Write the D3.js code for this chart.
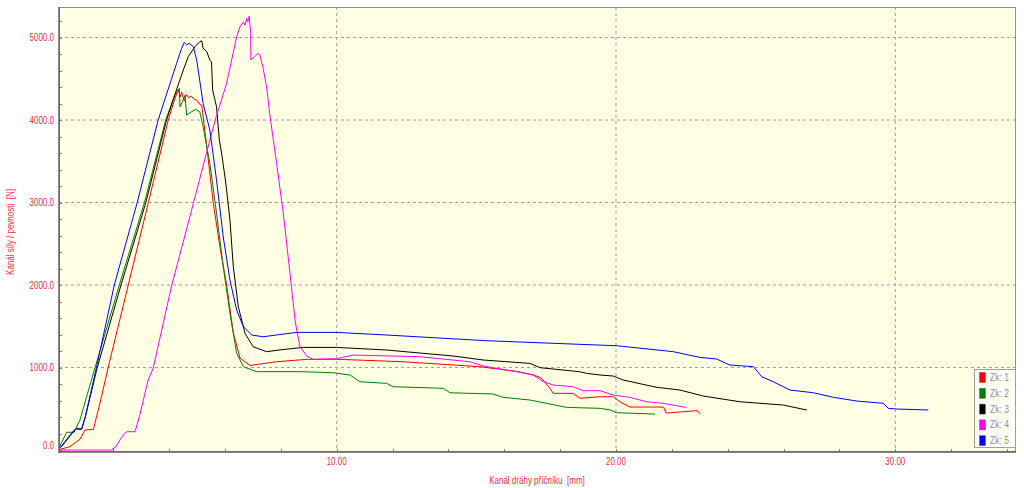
<!DOCTYPE html>
<html><head><meta charset="utf-8">
<script src="https://cdn.jsdelivr.net/npm/d3@7"></script>
<style>body{margin:0;background:#fff}svg{display:block}text{font-family:"Liberation Sans",Arial,sans-serif}</style>
</head><body><svg id="c" width="1024" height="488"></svg>
<script>
const seriesNames = ["Zk: 1","Zk: 2","Zk: 3","Zk: 4","Zk: 5"];
const seriesColors = ["#ff0000","#008000","#000000","#ff00ff","#0000ff"];
const xTicks = [10,20,30];
const yTicks = [0,1000,2000,3000,4000,5000];
const xTitle = "Kanál dráhy příčníku  [mm]";
const yTitle = "Kanál síly / pevnosti  [N]";

const zk1 = [[0,0],[0.45,40],[0.81,130],[0.99,242],[1.29,250],[1.53,570],[1.82,1000],[2.54,2000],[3.26,3000],[3.97,4000],[4.2,4250],[4.33,4370],[4.4,4280],[4.45,4340],[4.55,4230],[4.62,4310],[4.7,4270],[4.8,4290],[4.9,4250],[5.0,4240],[5.1,4190],[5.17,4180],[5.35,3676],[5.58,3000],[5.82,2465],[6.06,2000],[6.30,1420],[6.54,1115],[6.9,1025],[7.85,1070],[8.93,1099],[10.0,1100],[12.38,1070],[15.13,1010],[16.5,950],[17.04,909],[17.3,880],[17.64,748],[17.75,687],[18.47,687],[18.71,627],[19.43,646],[19.9,646],[20.14,585],[20.5,521],[21.7,521],[21.8,448],[22.9,477],[23.03,436]];
const zk2 = [[0,0],[0.15,85],[0.33,215],[0.6,215],[0.81,364],[1.35,1000],[2.22,2000],[3.12,3000],[3.88,4000],[4.2,4300],[4.37,4385],[4.39,4160],[4.5,4240],[4.57,4300],[4.63,4060],[4.8,4100],[4.95,4130],[5.1,4100],[5.22,3920],[5.46,3475],[5.70,2870],[5.94,2222],[6.18,1658],[6.42,1173],[6.66,1010],[7.13,950],[8.69,950],[9.87,937],[10.48,909],[10.83,828],[11.79,808],[12.03,767],[13.82,748],[14.06,694],[15.6,679],[15.96,639],[16.92,606],[18.23,517],[19.43,505],[19.8,485],[20.02,452],[21.4,436]];
const zk3 = [[0,0],[0.2,60],[0.45,170],[0.6,230],[0.67,260],[0.87,255],[1.0,400],[1.43,1000],[2.28,2000],[3.17,3000],[3.91,4000],[4.3,4400],[4.51,4606],[4.69,4770],[4.93,4890],[5.1,4950],[5.17,4960],[5.22,4870],[5.35,4830],[5.46,4727],[5.52,4706],[5.56,4363],[5.70,4161],[5.80,3760],[5.88,3600],[6.0,3313],[6.06,3151],[6.18,2788],[6.30,2222],[6.48,1737],[6.72,1414],[7.01,1252],[7.49,1192],[8.0,1215],[8.8,1244],[10.0,1244],[11.79,1212],[14.18,1139],[15.25,1091],[16.92,1050],[17.28,998],[18.7,949],[18.95,929],[19.43,909],[19.9,897],[20.26,848],[21.46,760],[22.29,727],[23.13,654],[24.44,585],[25.99,545],[26.83,485]];
const zk4 = [[0,0],[1.94,0],[2.1,40],[2.24,121],[2.40,200],[2.50,222],[2.78,222],[2.95,420],[3.25,848],[3.43,990],[4.09,1988],[4.87,2990],[5.64,3988],[6.06,4444],[6.42,5010],[6.54,5130],[6.66,5190],[6.72,5150],[6.78,5230],[6.82,5190],[6.87,5260],[6.92,5050],[6.93,4727],[7.07,4770],[7.19,4808],[7.25,4790],[7.37,4625],[7.49,4404],[7.61,4060],[7.85,3475],[8.09,2869],[8.33,2141],[8.51,1576],[8.57,1455],[8.69,1252],[8.93,1139],[9.16,1099],[10.0,1107],[10.6,1151],[12.98,1131],[14.77,1070],[15.25,1018],[16.44,949],[17.04,909],[17.4,828],[17.75,788],[18.47,767],[18.83,719],[19.43,719],[19.9,666],[20.5,639],[21.1,585],[21.69,566],[22.5,517]];
const zk5 = [[0,0],[0.2,70],[0.45,180],[0.6,240],[0.67,255],[0.87,250],[1.0,400],[1.40,1000],[2.04,2000],[2.86,3000],[3.61,4000],[4.27,4687],[4.45,4870],[4.54,4940],[4.63,4910],[4.72,4930],[4.87,4890],[4.99,4727],[5.22,4200],[5.46,3880],[5.70,3272],[5.94,2585],[6.18,2060],[6.42,1697],[6.66,1495],[6.96,1394],[7.37,1373],[8.57,1426],[10.0,1426],[11.79,1394],[15.37,1325],[18.71,1281],[20.03,1264],[22.05,1192],[23.0,1123],[23.6,1103],[24.08,1030],[24.92,1010],[25.22,888],[25.63,828],[26.23,727],[27.07,694],[27.78,639],[28.62,594],[29.57,566],[29.75,505],[30.05,497],[31.18,485]];
const allSeries = [zk1,zk2,zk3,zk4,zk5];

const svg = d3.select("#c");
const L=59, R=1016, T=7, B=452;
const x = d3.scaleLinear().domain([0.06,34.32]).range([L,R]);
const y = d3.scaleLinear().domain([-24,5370]).range([B,T]);
const red = "#e8304a";

function narrow(sel, f){
  sel.each(function(){
    const w = this.getComputedTextLength();
    this.setAttribute("textLength", (w*f).toFixed(1));
    this.setAttribute("lengthAdjust","spacingAndGlyphs");
  });
}

svg.append("rect").attr("x",L).attr("y",T).attr("width",R-L).attr("height",B-T).attr("fill","#ffffe3");

// grid
svg.append("g").selectAll("line").data(xTicks).join("line")
  .attr("x1",d=>x(d)).attr("x2",d=>x(d)).attr("y1",T).attr("y2",B)
  .attr("stroke","#a0a0a0").attr("stroke-dasharray","3,3");
svg.append("g").selectAll("line").data(yTicks.filter(d=>d>0)).join("line")
  .attr("x1",L).attr("x2",R).attr("y1",d=>y(d)).attr("y2",d=>y(d))
  .attr("stroke","#a0a0a0").attr("stroke-dasharray","3,3");

// minor ticks
const yMinor = d3.range(0,5400,200);
svg.append("g").selectAll("line").data(yMinor).join("line")
  .attr("x1",L).attr("x2",L+3).attr("y1",d=>Math.round(y(d))+0.5).attr("y2",d=>Math.round(y(d))+0.5)
  .attr("stroke","#808080");
const xMinor = d3.range(2,34.01,2);
svg.append("g").selectAll("line").data(xMinor).join("line")
  .attr("x1",d=>Math.round(x(d))+0.5).attr("x2",d=>Math.round(x(d))+0.5).attr("y1",B).attr("y2",B-3)
  .attr("stroke","#808080");

// lines
const line = d3.line().x(d=>x(d[0])).y(d=>y(d[1]));
svg.append("clipPath").attr("id","pc").append("rect").attr("x",L).attr("y",T).attr("width",R-L).attr("height",B-T);
const lg = svg.append("g").attr("clip-path","url(#pc)");
allSeries.forEach((s,i)=>{
  lg.append("path").attr("d",line(s)).attr("fill","none").attr("stroke",seriesColors[i]).attr("stroke-width",1);
});

// frame
svg.append("rect").attr("x",L+0.5).attr("y",T+0.5).attr("width",R-L-1).attr("height",B-T-1).attr("fill","none").attr("stroke","#909090");
svg.append("line").attr("x1",L).attr("x2",L).attr("y1",T).attr("y2",B+1).attr("stroke","#606060").attr("stroke-width",1.5);
svg.append("line").attr("x1",L).attr("x2",R).attr("y1",B).attr("y2",B).attr("stroke","#606060").attr("stroke-width",1.5);

// tick labels
svg.append("g").selectAll("text").data(yTicks).join("text")
  .attr("x",54).attr("y",d=>y(d)+(d===0?-5:0)).attr("dy","0.35em").attr("text-anchor","end")
  .attr("fill",red).attr("font-size",10).text(d=>d3.format(".1f")(d)).call(narrow,0.8);
svg.append("g").selectAll("text").data(xTicks).join("text")
  .attr("x",d=>x(d)).attr("y",461).attr("dy","0.35em").attr("text-anchor","middle")
  .attr("fill",red).attr("font-size",10).text(d=>d3.format(".2f")(d)).call(narrow,0.8);

svg.append("text").attr("x",537).attr("y",480).attr("dy","0.35em").attr("text-anchor","middle")
  .attr("fill",red).attr("font-size",10).style("white-space","pre").text(xTitle).call(narrow,0.8);
svg.append("text").attr("transform","translate(10,232) rotate(-90)").attr("dy","0.35em").attr("text-anchor","middle")
  .attr("fill",red).attr("font-size",10).style("white-space","pre").text(yTitle).call(narrow,0.8);

// legend
const lgX=974, lgY=369;
svg.append("rect").attr("x",lgX+0.5).attr("y",lgY+0.5).attr("width",41).attr("height",78).attr("fill","#fffff6").attr("stroke","#a0a0a0");
const items = svg.append("g").selectAll("g").data(seriesNames).join("g")
  .attr("transform",(d,i)=>`translate(${lgX},${lgY+8+i*15.8})`);
items.append("rect").attr("x",5.5).attr("y",-4.5).attr("width",6).attr("height",10)
  .attr("fill",(d,i)=>seriesColors[i]).attr("stroke","#606060").attr("stroke-width",0.5);
items.append("text").attr("x",16).attr("y",0.5).attr("dy","0.35em").attr("fill","#909090").attr("font-size",10).text(d=>d).call(narrow,0.85);
</script></body></html>
